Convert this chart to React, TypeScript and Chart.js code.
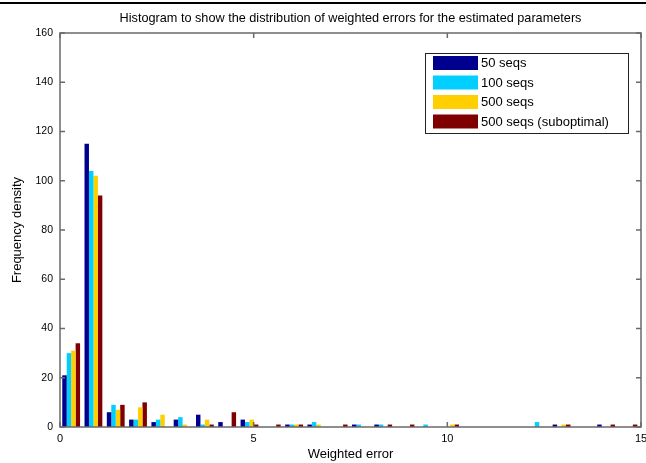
import React, { useEffect, useRef } from 'react';
import { Chart, registerables } from 'chart.js';

Chart.register(...registerables);

// Histogram bin centres (weighted error)
const binCenters = [
  0.288, 0.863, 1.439, 2.014, 2.59, 3.165, 3.741, 4.316, 4.892, 5.467,
  6.043, 6.618, 7.194, 7.769, 8.345, 8.92, 9.496, 10.071, 10.647, 11.222,
  11.798, 12.373, 12.949, 13.524, 14.1, 14.675,
];

const seqs50 = [21, 115, 6, 3, 2, 3, 5, 2, 3, 0, 1, 1, 0, 1, 1, 0, 0, 0, 0, 0, 0, 0, 1, 0, 1, 0];
const seqs100 = [30, 104, 9, 3, 3, 4, 1, 0, 2, 0, 1, 2, 0, 1, 1, 0, 1, 0, 0, 0, 0, 2, 0, 0, 0, 0];
const seqs500 = [31, 102, 7, 8, 5, 1, 3, 0, 3, 0, 1, 1, 0, 0, 0, 0, 0, 1, 0, 0, 0, 0, 1, 0, 0, 0];
const seqs500sub = [34, 94, 9, 10, 0, 0, 1, 6, 1, 1, 1, 0, 1, 0, 1, 1, 0, 1, 0, 0, 0, 0, 1, 0, 1, 1];

const seriesLabels = ['50 seqs', '100 seqs', '500 seqs', '500 seqs (suboptimal)'];
const seriesColors = ['#00008F', '#00CFFF', '#FFCF00', '#7F0000'];

const xTicks = [0, 5, 10, 15];
const yTicks = [0, 20, 40, 60, 80, 100, 120, 140, 160];

const titleText = 'Histogram to show the distribution of weighted errors for the estimated parameters';
const FONT = '"Liberation Sans", Arial, Helvetica, sans-serif';

export default function App() {
  const ref = useRef<HTMLCanvasElement | null>(null);

  useEffect(() => {
    document.body.style.margin = '0';
    const canvas = ref.current;
    if (!canvas) return;
    const allSeries = [seqs50, seqs100, seqs500, seqs500sub];

    const decor = {
      id: 'decor',
      beforeDraw(chart: any) {
        const ctx = chart.ctx;
        ctx.save();
        ctx.fillStyle = '#ffffff';
        ctx.fillRect(0, 0, chart.width, chart.height);
        ctx.restore();
      },
      afterDraw(chart: any) {
        const ctx = chart.ctx;
        const { left, right, top, bottom } = chart.chartArea;
        const xs = chart.scales.x;
        const ys = chart.scales.y;
        ctx.save();
        // top screenshot line
        ctx.fillStyle = '#000';
        ctx.fillRect(0, 2, chart.width, 2);
        // plot box
        ctx.strokeStyle = '#6a6a6a';
        ctx.lineWidth = 1.5;
        ctx.strokeRect(left, top, right - left, bottom - top);
        // inward ticks
        ctx.beginPath();
        xTicks.forEach((v) => {
          const px = xs.getPixelForValue(v);
          ctx.moveTo(px, bottom);
          ctx.lineTo(px, bottom - 5);
          ctx.moveTo(px, top);
          ctx.lineTo(px, top + 5);
        });
        yTicks.forEach((v) => {
          const py = ys.getPixelForValue(v);
          ctx.moveTo(left, py);
          ctx.lineTo(left + 5, py);
          ctx.moveTo(right, py);
          ctx.lineTo(right - 5, py);
        });
        ctx.stroke();
        // title
        ctx.fillStyle = '#000';
        ctx.font = `12.7px ${FONT}`;
        ctx.textAlign = 'center';
        ctx.textBaseline = 'middle';
        ctx.fillText(titleText, (left + right) / 2, 18);
        // legend
        const lx = 425, ly = 53, lw = 203, lh = 80;
        ctx.fillStyle = '#fff';
        ctx.fillRect(lx, ly, lw, lh);
        ctx.strokeStyle = '#222';
        ctx.lineWidth = 1;
        ctx.strokeRect(lx + 0.5, ly + 0.5, lw, lh);
        seriesLabels.forEach((lab, i) => {
          const cy = 63 + i * 19.5;
          ctx.fillStyle = seriesColors[i];
          ctx.fillRect(433, cy - 7, 45, 14);
          ctx.fillStyle = '#000';
          ctx.textAlign = 'left';
          ctx.textBaseline = 'middle';
          ctx.font = `13px ${FONT}`;
          ctx.fillText(lab, 481, cy + 0.5);
        });
        ctx.restore();
      },
    };

    const chart = new Chart(canvas, {
      type: 'bar',
      data: {
        datasets: allSeries.map((vals, i) => ({
          label: seriesLabels[i],
          data: binCenters.map((x, j) => ({ x, y: vals[j] })),
          backgroundColor: seriesColors[i],
          borderWidth: 0,
          barPercentage: 1,
          categoryPercentage: 0.8,
        })),
      },
      options: {
        responsive: false,
        animation: false,
        devicePixelRatio: 1,
        layout: { padding: { top: 33, right: 5, bottom: 0, left: 0 } },
        plugins: {
          legend: { display: false },
          title: { display: false },
          tooltip: { enabled: false },
        },
        scales: {
          x: {
            type: 'linear',
            min: 0,
            max: 15,
            offset: false,
            grid: { display: false, drawTicks: false },
            border: { display: false },
            ticks: {
              stepSize: 5,
              maxRotation: 0,
              padding: 5,
              color: '#000',
              font: { family: FONT, size: 11 },
            },
            title: {
              display: true,
              text: 'Weighted error',
              color: '#000',
              font: { family: FONT, size: 13 },
              padding: { top: 0, bottom: 1 },
            },
            afterFit(s: any) {
              s.height = 36;
              s.paddingLeft = 0;
              s.paddingRight = 0;
            },
          },
          y: {
            min: 0,
            max: 160,
            grid: { display: false, drawTicks: false },
            border: { display: false },
            ticks: {
              stepSize: 20,
              padding: 7,
              color: '#000',
              font: { family: FONT, size: 10.5 },
            },
            title: {
              display: true,
              text: 'Frequency density',
              color: '#000',
              font: { family: FONT, size: 13 },
              padding: { top: 10, bottom: 0 },
            },
            afterFit(s: any) {
              s.width = 60;
              s.paddingTop = 0;
              s.paddingBottom = 0;
            },
          },
        },
      },
      plugins: [decor],
    });
    return () => chart.destroy();
  }, []);

  return (
    <div style={{ position: 'fixed', left: 0, top: 0, width: 646, height: 463, overflow: 'hidden', background: '#fff' }}>
      <canvas ref={ref} width={646} height={463} style={{ display: 'block' }} />
    </div>
  );
}
